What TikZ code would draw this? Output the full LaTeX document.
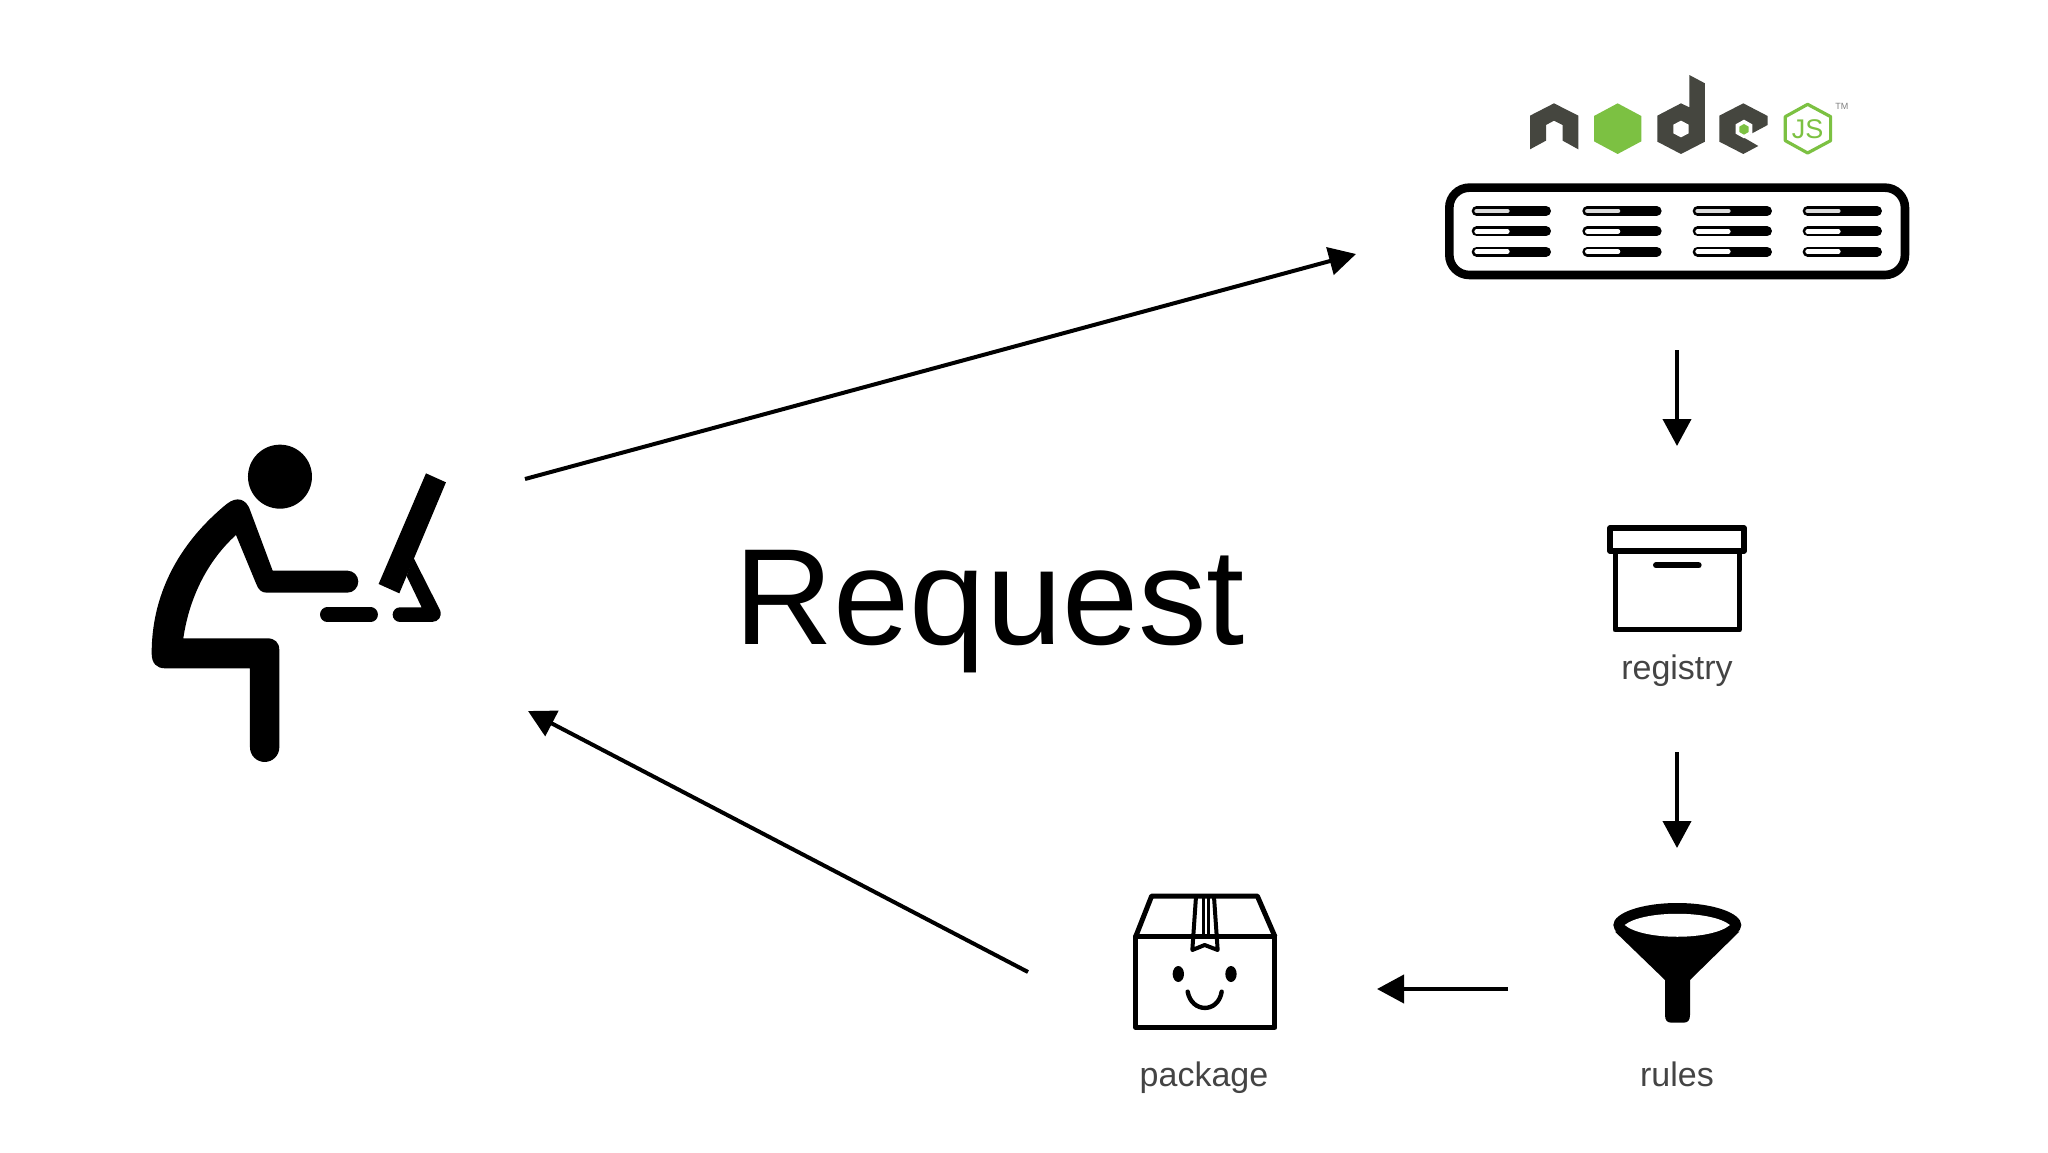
\documentclass[tikz,border=0pt]{standalone}
\usepackage{fontspec}
\setmainfont{Liberation Sans}
\usetikzlibrary{arrows.meta}
\definecolor{nodegrey}{HTML}{45463F}
\definecolor{nodegreen}{HTML}{7CC142}
\definecolor{labelgrey}{HTML}{444444}
\tikzset{
  flow/.style={line width=4pt, -{Triangle[length=27pt,width=28pt]}},
  iconlabel/.style={anchor=base, inner sep=0pt, text=labelgrey, font=\fontsize{34}{34}\selectfont},
  smallicon/.style={x=0.3333pt, y=-0.3333pt},
}
\begin{document}
\begin{tikzpicture}[x=1pt, y=-1pt]
        \useasboundingbox (0,0) rectangle (2048,1152);
        \fill[white] (0,0) rectangle (2048,1152);
        % Person at the computer
        \begin{scope}[shift={(130,420)}, smallicon]
          \fill (450,170) circle (96);
          \fill (360,745) -- (360,982) arc[start angle=180, end angle=0, radius=44] -- (448,690)
            .. controls (448,668) and (435,655) .. (412,655) -- (160,655)
            .. controls (178,530) and (235,420) .. (318,345) -- (378,490)
            .. controls (385,510) and (395,518) .. (410,518) -- (652,518)
            arc[start angle=90, end angle=-90, radius=33] -- (428,452) -- (362,275)
            .. controls (350,235) and (320,228) .. (290,252)
            .. controls (140,375) and (65,530) .. (65,700)
            .. controls (65,730) and (80,745) .. (105,745) -- cycle;
          \fill (888,160) -- (948,187) -- (808,520) -- (746,492) -- cycle;
          \fill (850,412) -- (930,570)
            .. controls (938,590) and (925,606) .. (905,606) -- (810,606)
            arc[start angle=90, end angle=270, radius=22] -- (875,562) -- (830,468) -- cycle;
          \draw[line width=14.6pt, line cap=round] (592,584) -- (722,584);
        \end{scope}
        % Logo above the server
        \begin{scope}[shift={(1420,50)}, smallicon]
          \fill[nodegrey] (330,298) -- (330,197) -- (402,160) -- (475,197) -- (475,298) -- (428,272) -- (428,225) -- (402,212) -- (378,225) -- (378,272) -- cycle;
          \fill[nodegreen] (593,160) -- (664,198) -- (664,274) -- (593,312) -- (522,274) -- (522,198) -- cycle;
          \fill[nodegrey] (808,75) -- (855,100) -- (855,275) -- (783,312) -- (712,275) -- (712,197) -- (783,160) -- (808,172) -- cycle;
          \fill[white] (783,212) -- (806,224) -- (806,250) -- (783,262) -- (760,250) -- (760,224) -- cycle;
          \fill[nodegrey] (970,160) -- (1043,198) -- (1043,225) -- (972,263) -- (1015,288) -- (970,312) -- (898,275) -- (898,197) -- cycle;
          \fill[white] (972,209) -- (997,223) -- (997,251) -- (972,265) -- (947,251) -- (947,223) -- cycle;
          \fill[nodegreen] (972,222) -- (986,230) -- (986,246) -- (972,254) -- (958,246) -- (958,230) -- cycle;
          \draw[nodegreen, line width=3.2pt, line join=round] (1163,163) -- (1232,200) -- (1232,272) -- (1163,309) -- (1096,272) -- (1096,200) -- cycle;
          \node (jslabel) at (1163,238) [inner sep=0pt, text=nodegreen, font=\fontsize{27}{27}\selectfont] {JS};
          \node (tmlabel) at (1266,170) [inner sep=0pt, text=gray, font=\fontsize{9}{9}\selectfont] {TM};
        \end{scope}
        % Server
        \begin{scope}[shift={(1420,50)}, smallicon]
          \draw[line width=8.6pt, rounded corners=20pt] (88,413) rectangle (1455,675);
          \foreach \slotx in {155,487,818,1148}
            \foreach \sloty/\slotcol in {483/black!14, 544/white, 605/white} {
              \draw[line width=10pt, line cap=round] (\slotx+15,\sloty) -- (\slotx+223,\sloty);
              \draw[\slotcol, line width=4.6pt, line cap=round] (\slotx+15,\sloty) -- (\slotx+107,\sloty);
            }
        \end{scope}
        % Registry box
        \begin{scope}[shift={(1580,510)}, smallicon]
          \draw[line width=5pt, line join=round] (105,125) -- (105,360) -- (478,360) -- (478,125);
          \draw[line width=6pt, line join=round] (90,55) rectangle (492,122);
          \draw[line width=6pt, line cap=round] (228,166) -- (356,166);
        \end{scope}
        \node[iconlabel] (registry) at (1677,679) {registry};
        % Funnel
        \begin{scope}[shift={(1580,880)}, smallicon]
          \fill (105,155) -- (255,300) -- (255,405) .. controls (255,422) and (262,428) .. (275,428) -- (310,428) .. controls (323,428) and (330,422) .. (330,405) -- (330,300) -- (478,155) -- cycle;
          \fill (292,135) ellipse [x radius=192, y radius=66];
          \fill[white] (134,135) .. controls (190,90) and (394,90) .. (450,135) .. controls (394,182) and (190,182) .. (134,135) -- cycle;
        \end{scope}
        \node[iconlabel] (rules) at (1677,1086) {rules};
        % Package with a face
        \begin{scope}[shift={(1100,870)}, smallicon]
          \draw[line width=5pt, line join=round] (107,200) rectangle (525,472);
          \draw[line width=5pt, line join=round] (107,200) -- (155,78) -- (472,78) -- (525,200);
          \draw[line width=4pt, line join=round] (288,80) -- (277,240) -- (314,225) -- (353,240) -- (342,80);
          \draw[line width=3.4pt] (310,80) -- (310,200) (325,80) -- (325,200);
          \fill (235,312) ellipse [x radius=17, y radius=24];
          \fill (393,312) ellipse [x radius=17, y radius=24];
          \draw[line width=4.4pt, line cap=round] (263,365) .. controls (275,430) and (355,430) .. (365,365);
        \end{scope}
        \node[iconlabel] (package) at (1204,1086) {package};
        % Title
        \node (request) at (990,644) [anchor=base, inner sep=0pt, font=\fontsize{137}{137}\selectfont] {Request};
        % Arrows
        \coordinate (userout) at (525,479);
        \coordinate (serverin) at (1356,254);
        \coordinate (serverout) at (1677,350);
        \coordinate (registryin) at (1677,446);
        \coordinate (registryout) at (1677,752);
        \coordinate (rulesin) at (1677,848);
        \coordinate (rulesout) at (1508,989);
        \coordinate (packagein) at (1377,989);
        \coordinate (packageout) at (1028,972);
        \coordinate (userin) at (528,711);
        \draw[flow] (userout) -- (serverin);
        \draw[flow] (serverout) -- (registryin);
        \draw[flow] (registryout) -- (rulesin);
        \draw[flow] (rulesout) -- (packagein);
        \draw[flow] (packageout) -- (userin);
      \end{tikzpicture}
\end{document}
